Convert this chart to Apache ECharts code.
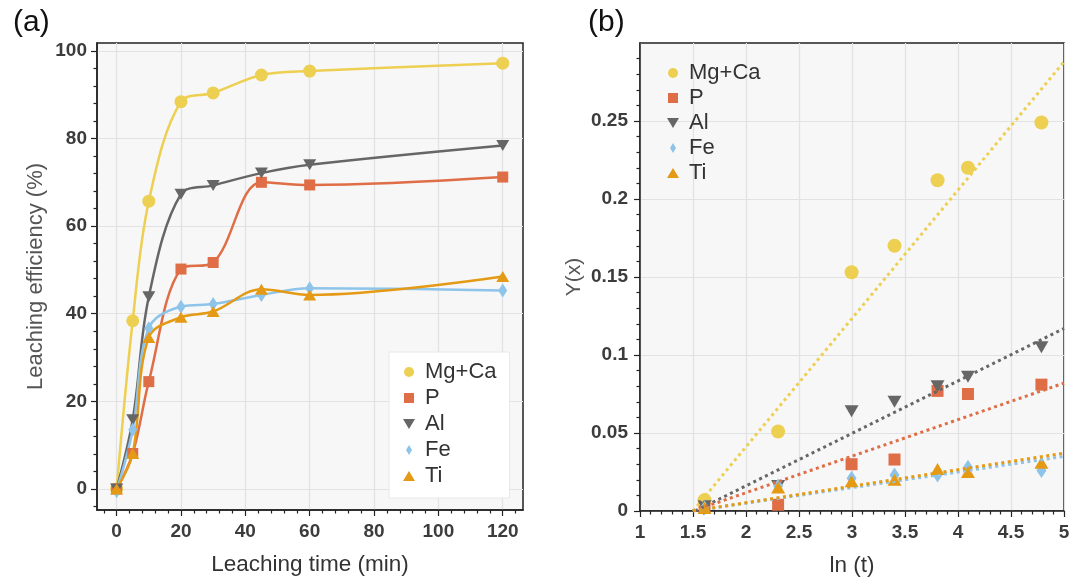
<!DOCTYPE html>
<html><head><meta charset="utf-8">
<script src="https://cdn.jsdelivr.net/npm/echarts@6/dist/echarts.min.js"></script>
<style>html,body{margin:0;padding:0;background:#fff}#c{width:1070px;height:579px}</style>
</head><body><div id="c"></div>
<script>
// ---------- data ----------
const seriesNames = ['Mg+Ca', 'P', 'Al', 'Fe', 'Ti'];
const timeMin = [0, 5, 10, 20, 30, 45, 60, 120];
const effMgCa = [0, 38.4, 65.7, 88.4, 90.4, 94.5, 95.4, 97.2];
const effP    = [0, 8.1, 24.5, 50.2, 51.7, 70.0, 69.4, 71.2];
const effAl   = [0, 15.8, 43.9, 67.3, 69.3, 72.1, 74.0, 78.4];
const effFe   = [-0.5, 13.5, 36.7, 41.6, 42.2, 44.3, 45.8, 45.3];
const effTi   = [0, 8.1, 34.6, 39.2, 40.5, 45.6, 44.3, 48.5];

const lnT   = [1.609, 2.303, 2.996, 3.401, 3.807, 4.094, 4.787];
const yMgCa = [0.007, 0.051, 0.153, 0.170, 0.212, 0.220, 0.249];
const yP    = [0.002, 0.004, 0.030, 0.033, 0.077, 0.075, 0.081];
const yAl   = [0.003, 0.016, 0.064, 0.070, 0.080, 0.086, 0.105];
const yFe   = [0.002, 0.016, 0.021, 0.023, 0.023, 0.028, 0.026];
const yTi   = [0.002, 0.015, 0.019, 0.020, 0.027, 0.025, 0.031];

// fitted straight lines, endpoints [ln t, Y]
const fitMgCa = [[1.50, 0], [5, 0.288]];
const fitP    = [[1.50, 0], [5, 0.082]];
const fitAl   = [[1.52, 0], [5, 0.117]];
const fitFe   = [[1.50, 0], [5, 0.035]];
const fitTi   = [[1.50, 0], [5, 0.037]];

const xTicksA = [0, 20, 40, 60, 80, 100, 120];
const yTicksA = [0, 20, 40, 60, 80, 100];
const xTicksB = [1, 1.5, 2, 2.5, 3, 3.5, 4, 4.5, 5];
const yTicksB = [0, 0.05, 0.1, 0.15, 0.2, 0.25];

// ---------- styles ----------
const FONT = '"Liberation Sans", Arial, Helvetica, sans-serif';
const colors = { 'Mg+Ca': '#EDCF52', 'P': '#DF6D45', 'Al': '#666666', 'Fe': '#8EC4EA', 'Ti': '#E49A14' };
const sym = {
  'Mg+Ca': { symbol: 'circle', size: 13, rot: 0 },
  'P':     { symbol: 'rect', size: 11, rot: 0 },
  'Al':    { symbol: 'triangle', size: [13, 11], rot: 180 },
  'Fe':    { symbol: 'diamond', size: [9, 14], rot: 0 },
  'Ti':    { symbol: 'triangle', size: [13, 11], rot: 0 }
};
const legendIcons = {
  'Mg+Ca': 'circle',
  'P': 'path://M0,0H10V10H0Z',
  'Al': 'path://M0,0L12,0L6,10Z',
  'Fe': 'path://M3,0L6,5L3,10L0,5Z',
  'Ti': 'path://M6,0L12,10L0,10Z'
};
const effData = { 'Mg+Ca': effMgCa, 'P': effP, 'Al': effAl, 'Fe': effFe, 'Ti': effTi };
const yData = { 'Mg+Ca': yMgCa, 'P': yP, 'Al': yAl, 'Fe': yFe, 'Ti': yTi };
const fitData = { 'Mg+Ca': fitMgCa, 'P': fitP, 'Al': fitAl, 'Fe': fitFe, 'Ti': fitTi };

const labelStyle = { fontFamily: FONT, fontSize: 19, fontWeight: 'bold', color: '#3c3c3c' };
const tickLine = { color: '#222', width: 1.2 };
function axisCommon() {
  return {
    axisLine: { show: true, onZero: false, lineStyle: { color: '#222', width: 1.5 } },
    axisTick: { show: true, inside: false, length: 6, lineStyle: tickLine },
    minorTick: { show: true, splitNumber: 5, length: 3.5, lineStyle: tickLine },
    splitLine: { show: true, lineStyle: { color: '#e2e2e2', width: 1.2 } }
  };
}
const legendData = seriesNames.map(n => ({ name: n, icon: legendIcons[n], itemStyle: { color: colors[n] } }));

const series = [];
seriesNames.forEach(n => {
  series.push({
    name: n, type: 'line', xAxisIndex: 0, yAxisIndex: 0, smooth: 0.35,
    data: timeMin.map((t, i) => [t, effData[n][i]]),
    symbol: sym[n].symbol, symbolSize: sym[n].size, symbolRotate: sym[n].rot, showAllSymbol: true,
    itemStyle: { color: colors[n] }, lineStyle: { color: colors[n], width: 2.5 }, z: 3
  });
});
seriesNames.forEach(n => {
  series.push({
    name: n, type: 'scatter', xAxisIndex: 1, yAxisIndex: 1,
    data: lnT.map((x, i) => [x, yData[n][i]]),
    symbol: sym[n].symbol, symbolSize: Array.isArray(sym[n].size) ? sym[n].size.map(v => v + 1) : sym[n].size + 1,
    symbolRotate: sym[n].rot, itemStyle: { color: colors[n], opacity: 1 }, z: 3
  });
});
['Mg+Ca', 'Al', 'P', 'Fe', 'Ti'].forEach(n => {
  series.push({
    name: 'fit ' + n, type: 'line', xAxisIndex: 1, yAxisIndex: 1, data: fitData[n],
    showSymbol: false, symbol: 'none', silent: true,
    lineStyle: { color: colors[n], width: 3, type: [3, 3.5] }, z: 4
  });
});

const option = {
  animation: false,
  backgroundColor: '#fff',
  textStyle: { fontFamily: FONT },
  title: [
    { text: '(a)', left: 8, top: 3, textStyle: { fontFamily: FONT, fontSize: 30, fontWeight: 'normal', color: '#111' } },
    { text: '(b)', left: 583, top: 3, textStyle: { fontFamily: FONT, fontSize: 30, fontWeight: 'normal', color: '#111' } }
  ],
  grid: [
    { left: 97, top: 43, width: 426, height: 467, show: true, containLabel: false, outerBoundsMode: 'none',
      backgroundColor: '#f7f7f7', borderColor: '#222', borderWidth: 1.5 },
    { left: 640, top: 43, width: 424, height: 468, show: true, containLabel: false, outerBoundsMode: 'none',
      backgroundColor: '#f7f7f7', borderColor: '#222', borderWidth: 1.5 }
  ],
  xAxis: [
    Object.assign(axisCommon(), {
      type: 'value', gridIndex: 0, min: -6.1, max: 126.3, minInterval: 20, maxInterval: 20,
      axisLabel: Object.assign({ customValues: xTicksA, margin: 12 }, labelStyle),
      axisTick: { show: true, inside: false, length: 6, lineStyle: tickLine, customValues: xTicksA },
      name: 'Leaching time (min)', nameLocation: 'middle', nameGap: 43,
      nameTextStyle: { fontFamily: FONT, fontSize: 22.5, color: '#333' }
    }),
    Object.assign(axisCommon(), {
      type: 'value', gridIndex: 1, min: 1, max: 5, interval: 0.5,
      axisLabel: Object.assign({ customValues: xTicksB, margin: 12 }, labelStyle),
      name: 'ln (t)', nameLocation: 'middle', nameGap: 43,
      nameTextStyle: { fontFamily: FONT, fontSize: 22.5, color: '#333' }
    })
  ],
  yAxis: [
    Object.assign(axisCommon(), {
      type: 'value', gridIndex: 0, min: -4.8, max: 101.8, minInterval: 20, maxInterval: 20,
      axisLabel: Object.assign({ customValues: yTicksA, margin: 10 }, labelStyle),
      axisTick: { show: true, inside: false, length: 6, lineStyle: tickLine, customValues: yTicksA },
      name: 'Leaching efficiency (%)', nameLocation: 'middle', nameGap: 50,
      nameTextStyle: { fontFamily: FONT, fontSize: 22, color: '#555' }
    }),
    Object.assign(axisCommon(), {
      type: 'value', gridIndex: 1, min: 0, max: 0.3, interval: 0.05,
      axisLabel: Object.assign({ customValues: yTicksB, margin: 12 }, labelStyle),
      axisTick: { show: true, inside: false, length: 6, lineStyle: tickLine, customValues: yTicksB },
      name: 'Y(x)', nameLocation: 'middle', nameGap: 55,
      nameTextStyle: { fontFamily: FONT, fontSize: 21, color: '#555' }
    })
  ],
  legend: [
    {
      orient: 'vertical', left: 389, top: 352, padding: [9, 13, 11, 14],
      backgroundColor: '#ffffff', borderColor: '#e8e8e8', borderWidth: 1,
      itemWidth: 22, itemHeight: 10, itemGap: 4, selectedMode: false,
      textStyle: { fontFamily: FONT, fontSize: 22, lineHeight: 22, color: '#333' },
      data: legendData
    },
    {
      orient: 'vertical', left: 667, top: 62, padding: 0,
      itemWidth: 22, itemHeight: 10, itemGap: 3, selectedMode: false,
      textStyle: { fontFamily: FONT, fontSize: 22, lineHeight: 22, color: '#333' },
      data: legendData
    }
  ],
  series: series
};
const chart = echarts.init(document.getElementById('c'), null, { renderer: 'canvas' });
chart.setOption(option);
</script>
</body></html>
